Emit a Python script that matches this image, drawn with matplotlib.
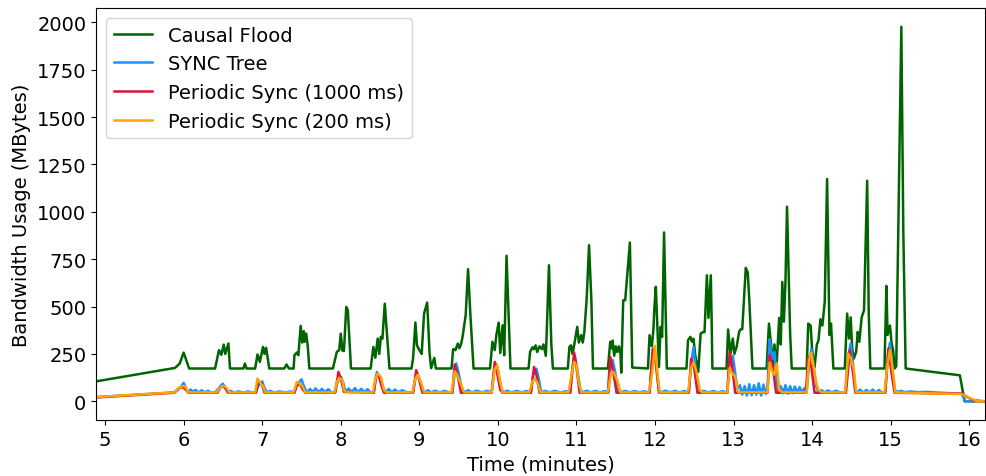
import matplotlib
matplotlib.use("Agg")
import matplotlib.pyplot as plt

plt.rcParams['font.size'] = 14

# Causal Flood (minutes, MBytes)
flood_t = [4.885, 5.89, 5.95, 6.00, 6.07, 6.40, 6.45, 6.48, 6.51, 6.53, 6.57, 6.59,
           6.76, 6.78, 6.80, 6.91, 6.94, 6.97, 7.01, 7.03, 7.05, 7.09,
           7.28, 7.31, 7.34, 7.40, 7.41, 7.44, 7.46, 7.49, 7.51, 7.53, 7.54, 7.56, 7.58, 7.60,
           7.90, 7.95, 7.98, 8.00, 8.02, 8.04, 8.07, 8.09, 8.13,
           8.38, 8.415, 8.44, 8.47, 8.49, 8.51, 8.53, 8.56, 8.62,
           8.90, 8.92, 8.95, 8.97, 9.00, 9.03, 9.06, 9.10, 9.13, 9.15, 9.19, 9.21,
           9.41, 9.43, 9.46, 9.49, 9.51, 9.53, 9.55, 9.59, 9.62, 9.65, 9.69,
           9.90, 9.93, 9.96, 9.98, 10.01, 10.03, 10.06, 10.08, 10.11, 10.16,
           10.39, 10.41, 10.44, 10.46, 10.48, 10.50, 10.53, 10.56, 10.58, 10.61, 10.62, 10.65, 10.68, 10.70,
           10.89, 10.91, 10.93, 10.95, 10.97, 11.01, 11.03, 11.06, 11.08, 11.10, 11.13, 11.16, 11.19, 11.21,
           11.40, 11.43, 11.45, 11.46, 11.48, 11.50, 11.52, 11.54, 11.56, 11.57, 11.595, 11.62, 11.68, 11.71,
           11.91, 11.93, 11.96, 11.98, 11.99, 12.01, 12.04, 12.05, 12.07, 12.09, 12.115, 12.15,
           12.40, 12.42, 12.45, 12.47, 12.49, 12.51, 12.55, 12.58, 12.61, 12.63, 12.66, 12.68, 12.71, 12.72, 12.73,
           12.91, 12.93, 12.96, 12.99, 13.01, 13.04, 13.07, 13.09, 13.11, 13.155, 13.18, 13.20, 13.24,
           13.42, 13.45, 13.48, 13.50, 13.52, 13.545, 13.58, 13.60, 13.62, 13.64, 13.66, 13.68, 13.72, 13.74,
           13.93, 13.95, 13.98, 14.00, 14.03, 14.06, 14.08, 14.105, 14.13, 14.16, 14.19, 14.22, 14.24, 14.27,
           14.415, 14.445, 14.47, 14.49, 14.51, 14.53, 14.56, 14.58, 14.60, 14.63, 14.66, 14.70, 14.72, 14.74,
           14.92, 14.945, 14.96, 14.99, 15.01, 15.03, 15.05, 15.07, 15.135, 15.16, 15.19,
           15.88, 15.94, 16.20]
flood_mb = [105, 176, 199, 257, 173, 173, 270, 245, 299, 250, 305, 173,
            173, 199, 173, 173, 247, 208, 287, 250, 282, 173,
            173, 194, 173, 173, 243, 257, 243, 398, 310, 370, 314, 357, 290, 173,
            173, 261, 270, 357, 268, 265, 498, 480, 173,
            173, 287, 230, 331, 250, 340, 330, 515, 173,
            173, 225, 416, 295, 270, 250, 463, 521, 255, 175, 229, 173,
            173, 275, 270, 305, 280, 300, 340, 455, 697, 455, 173,
            173, 314, 270, 349, 415, 255, 401, 243, 768, 173,
            173, 261, 285, 275, 295, 260, 290, 275, 300, 240, 349, 718, 300, 173,
            173, 287, 295, 250, 295, 393, 310, 349, 310, 365, 542, 824, 530, 173,
            173, 314, 280, 320, 240, 290, 260, 290, 250, 151, 533, 533, 838, 178,
            173, 349, 290, 384, 481, 604, 290, 181, 393, 340, 891, 173,
            173, 322, 340, 315, 330, 250, 155, 357, 365, 365, 665, 440, 665, 440, 173,
            173, 379, 250, 331, 250, 290, 366, 380, 380, 704, 680, 533, 173,
            173, 410, 290, 180, 300, 170, 440, 300, 630, 420, 630, 1027, 350, 173,
            173, 410, 400, 270, 180, 300, 320, 433, 400, 525, 1173, 350, 410, 173,
            173, 463, 331, 443, 277, 225, 261, 366, 314, 443, 480, 1164, 470, 173,
            173, 609, 350, 400, 310, 270, 173, 185, 1977, 900, 173,
            137, 0, 0]

# SYNC Tree
tree_t = [4.885, 5.88,
          5.93, 5.97, 6.00, 6.03, 6.06,
          6.09, 6.12, 6.15, 6.19, 6.23, 6.27, 6.31, 6.35, 6.40,
          6.44, 6.48, 6.50, 6.53, 6.56,
          6.60, 6.64, 6.70, 6.76, 6.82, 6.88, 6.92,
          6.95, 6.98, 7.00, 7.03, 7.06,
          7.10, 7.15, 7.22, 7.30, 7.36, 7.41,
          7.44, 7.47, 7.50, 7.53, 7.57,
          7.61, 7.64, 7.68, 7.72, 7.76, 7.80, 7.84, 7.88, 7.92,
          7.95, 7.98, 8.00, 8.03, 8.06,
          8.10, 8.14, 8.18, 8.22, 8.26, 8.30, 8.34, 8.38, 8.42,
          8.44, 8.46, 8.49, 8.53, 8.57,
          8.61, 8.65, 8.69, 8.73, 8.78, 8.84, 8.92,
          8.95, 8.97, 9.00, 9.04, 9.07,
          9.11, 9.15, 9.20, 9.26, 9.32, 9.38, 9.42,
          9.45, 9.47, 9.50, 9.54, 9.57,
          9.62, 9.67, 9.73, 9.80, 9.86, 9.92,
          9.95, 9.97, 10.00, 10.04, 10.07,
          10.12, 10.17, 10.24, 10.30, 10.36, 10.42,
          10.45, 10.49, 10.52, 10.55,
          10.60, 10.66, 10.72, 10.80, 10.86, 10.92,
          10.95, 10.98, 11.01, 11.05, 11.08,
          11.13, 11.18, 11.24, 11.30, 11.36, 11.41,
          11.43, 11.46, 11.49, 11.53, 11.56,
          11.62, 11.68, 11.74, 11.80, 11.86, 11.93,
          11.96, 11.99, 12.02, 12.05, 12.08,
          12.13, 12.19, 12.25, 12.31, 12.37, 12.43,
          12.46, 12.49, 12.51, 12.54, 12.57,
          12.62, 12.68, 12.74, 12.80, 12.86, 12.92,
          12.95, 12.99, 13.02, 13.05,
          13.08, 13.11, 13.14, 13.17, 13.20, 13.23, 13.26, 13.29, 13.32, 13.35, 13.38, 13.41, 13.43,
          13.45, 13.46, 13.49, 13.52, 13.55, 13.57,
          13.60, 13.63, 13.66, 13.69, 13.72, 13.75, 13.78, 13.81, 13.84, 13.87, 13.90, 13.93,
          13.96, 13.99, 14.02, 14.05, 14.08,
          14.12, 14.16, 14.20, 14.25, 14.30, 14.36, 14.42,
          14.45, 14.49, 14.52, 14.55, 14.57,
          14.61, 14.65, 14.69, 14.73, 14.77, 14.81, 14.85, 14.89, 14.93,
          14.96, 14.99, 15.02, 15.05, 15.08,
          15.13, 15.18, 15.25, 15.35, 15.45, 15.60, 15.90, 15.95, 16.20]
tree_mb = [22, 47,
           60, 80, 97, 70, 47,
           62, 48, 60, 47, 58, 47, 55, 47, 47,
           65, 85, 93, 70, 47,
           55, 47, 52, 47, 52, 47, 47,
           80, 95, 105, 70, 47,
           55, 47, 52, 47, 52, 47,
           80, 100, 116, 80, 47,
           65, 48, 68, 48, 66, 48, 64, 48, 47,
           90, 120, 130, 100, 50,
           68, 48, 70, 48, 66, 48, 64, 48, 47,
           100, 155, 130, 80, 47,
           65, 48, 62, 48, 58, 48, 47,
           120, 155, 120, 60, 47,
           58, 47, 56, 47, 55, 47, 47,
           150, 200, 150, 70, 47,
           58, 47, 56, 47, 55, 47,
           150, 200, 170, 70, 47,
           56, 47, 55, 47, 54, 47,
           140, 172, 120, 47,
           55, 47, 55, 47, 53, 47,
           180, 240, 170, 60, 47,
           56, 47, 55, 47, 54, 47,
           180, 218, 160, 60, 47,
           55, 47, 54, 47, 53, 47,
           200, 280, 180, 60, 47,
           56, 47, 55, 47, 54, 47,
           200, 287, 200, 80, 47,
           55, 47, 54, 47, 53, 47,
           200, 240, 150, 60,
           85, 35, 80, 30, 90, 32, 85, 35, 95, 30, 88, 40, 47,
           250, 328, 220, 260, 100, 47,
           80, 42, 85, 40, 80, 42, 78, 45, 75, 45, 70, 47,
           200, 275, 180, 80, 47,
           58, 47, 57, 47, 56, 47, 47,
           220, 305, 200, 60, 47,
           62, 45, 60, 45, 62, 45, 60, 45, 47,
           230, 310, 180, 60, 50,
           55, 48, 52, 48, 50, 46, 40, 0, 0]

# Periodic Sync (1000 ms)
p1000_t = [4.885, 5.88, 5.94, 5.99, 6.03, 6.06, 6.43, 6.47, 6.50, 6.54, 6.57,
           6.92, 6.95, 6.99, 7.03, 7.41, 7.44, 7.48, 7.52, 7.55,
           7.93, 7.97, 8.00, 8.04, 8.42, 8.45, 8.48, 8.52, 8.55,
           8.92, 8.96, 9.00, 9.04, 9.42, 9.45, 9.49, 9.53,
           9.92, 9.96, 9.99, 10.03, 10.06, 10.42, 10.46, 10.49, 10.53,
           10.92, 10.97, 11.00, 11.04, 11.40, 11.43, 11.47, 11.51,
           11.93, 11.97, 12.01, 12.05, 12.43, 12.46, 12.50, 12.54,
           12.92, 12.95, 12.98, 13.02, 13.43, 13.46, 13.50, 13.54,
           13.92, 13.95, 13.99, 14.03, 14.43, 14.48, 14.52, 14.55,
           14.93, 14.97, 15.01, 15.05, 15.90, 16.05, 16.20]
p1000_mb = [20, 45, 70, 75, 60, 45, 45, 75, 80, 65, 45,
            45, 100, 95, 45, 45, 85, 90, 60, 45,
            45, 155, 120, 50, 45, 135, 140, 80, 45,
            45, 164, 110, 45, 45, 194, 130, 45,
            45, 208, 150, 60, 45, 45, 181, 140, 45,
            45, 257, 180, 45, 45, 234, 150, 45,
            45, 275, 200, 45, 45, 225, 170, 45,
            45, 261, 190, 45, 45, 245, 180, 45,
            45, 234, 180, 45, 45, 270, 150, 45,
            45, 278, 150, 45, 40, 5, 0]

# Periodic Sync (200 ms)
p200_t = [4.885, 5.88, 5.93, 5.98, 6.02, 6.06, 6.42, 6.46, 6.50, 6.54, 6.58,
          6.91, 6.94, 6.97, 7.01, 7.04, 7.40, 7.44, 7.47, 7.51, 7.55,
          7.92, 7.95, 7.98, 8.02, 8.04, 8.07, 8.41, 8.44, 8.47, 8.51, 8.55, 8.58,
          8.91, 8.95, 8.98, 9.02, 9.06, 9.41, 9.45, 9.48, 9.53, 9.57,
          9.92, 9.96, 9.99, 10.03, 10.06, 10.40, 10.44, 10.47, 10.51, 10.54,
          10.90, 10.94, 10.97, 11.00, 11.03, 11.06, 11.40, 11.44, 11.47, 11.52, 11.56,
          11.92, 11.96, 12.00, 12.03, 12.06, 12.42, 12.46, 12.49, 12.53, 12.57, 12.60,
          12.92, 12.95, 12.98, 13.02, 13.06, 13.43, 13.46, 13.49, 13.52, 13.55, 13.58, 13.62,
          13.93, 13.96, 13.99, 14.02, 14.05, 14.08, 14.12, 14.42, 14.46, 14.49, 14.53, 14.56,
          14.92, 14.96, 14.99, 15.02, 15.06, 15.90, 16.10, 16.20]
p200_mb = [22, 47, 65, 81, 78, 47, 47, 70, 81, 75, 47,
           47, 120, 100, 80, 47, 47, 102, 95, 80, 47,
           47, 100, 124, 110, 60, 47, 47, 120, 146, 130, 60, 47,
           47, 120, 140, 100, 47, 47, 158, 140, 90, 47,
           47, 170, 190, 100, 47, 47, 105, 120, 90, 47,
           47, 150, 208, 190, 100, 47, 47, 150, 155, 110, 47,
           47, 140, 292, 150, 47, 47, 180, 205, 150, 60, 47,
           47, 175, 150, 130, 47, 47, 205, 160, 140, 200, 60, 47,
           47, 220, 255, 180, 100, 60, 47, 47, 250, 230, 170, 47,
           47, 200, 270, 180, 47, 38, 0, 0]

fig = plt.figure(figsize=(9.86, 4.77), dpi=100)
ax = fig.add_axes([0.0974, 0.1174, 0.9016, 0.8637])

ax.plot(flood_t, flood_mb, color='darkgreen', lw=1.8, label='Causal Flood')
ax.plot(tree_t, tree_mb, color='dodgerblue', lw=1.8, label='SYNC Tree')
ax.plot(p1000_t, p1000_mb, color='crimson', lw=1.8, label='Periodic Sync (1000 ms)')
ax.plot(p200_t, p200_mb, color='orange', lw=1.8, label='Periodic Sync (200 ms)')

ax.set_xlim(4.885, 16.2)
ax.set_xticks(range(5, 17))
ax.set_xlabel('Time (minutes)')
ax.set_ylabel('Bandwidth Usage (MBytes)')
ax.legend(loc='upper left')

fig.savefig('out.png', dpi=100)
